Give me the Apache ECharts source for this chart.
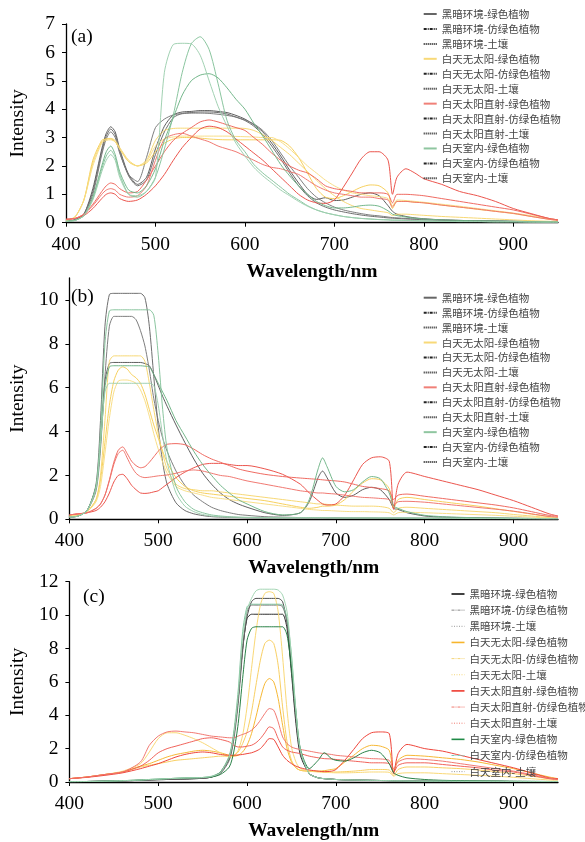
<!DOCTYPE html>
<html><head><meta charset="utf-8">
<script src="https://cdn.jsdelivr.net/npm/echarts@6.0.0/dist/echarts.min.js"></script>
<style>html,body{margin:0;padding:0;background:#fff;}.c{position:absolute;left:0;top:0;width:585px;height:842px;}</style>
</head><body>
<div id="ca" class="c"></div><div id="cb" class="c"></div><div id="cc" class="c"></div>
<script>
// ---------- names ----------
const seriesNames = ['黑暗环境-绿色植物','黑暗环境-仿绿色植物','黑暗环境-土壤','白天无太阳-绿色植物','白天无太阳-仿绿色植物','白天无太阳-土壤','白天太阳直射-绿色植物','白天太阳直射-仿绿色植物','白天太阳直射-土壤','白天室内-绿色植物','白天室内-仿绿色植物','白天室内-土壤'];
const xTicks = [400,500,600,700,800,900];

// ---------- panel (a) ----------
const wlA = [400,410,420,430,440,445,450,455,460,470,480,490,500,510,520,530,540,550,560,570,580,590,600,610,620,630,640,650,660,670,680,690,700,710,720,730,740,750,760,765,770,780,790,800,820,840,860,880,900,920,940,950];
const a_dark_plant = [0.05,0.1,0.3,1.2,2.6,3.15,3.38,3.2,2.6,1.7,1.35,1.6,2.6,3.4,3.8,3.9,3.92,3.95,3.95,3.92,3.88,3.78,3.65,3.45,3.2,2.8,2.35,1.85,1.4,1.0,0.82,0.88,0.78,0.8,0.9,1.0,1.05,0.95,0.6,0.4,0.3,0.22,0.17,0.14,0.1,0.08,0.07,0.06,0.05,0.04,0.03,0.03];
const a_dark_fake = [0.05,0.1,0.3,1.1,2.5,3.05,3.3,3.1,2.5,1.65,1.3,1.5,2.4,3.2,3.7,3.85,3.88,3.9,3.9,3.88,3.83,3.72,3.6,3.4,3.1,2.7,2.25,1.75,1.3,0.95,0.7,0.55,0.45,0.38,0.32,0.27,0.23,0.2,0.17,0.16,0.15,0.13,0.12,0.1,0.08,0.07,0.06,0.05,0.04,0.03,0.03,0.02];
const a_dark_soil = [0.05,0.1,0.3,1.0,2.4,2.95,3.2,3.0,2.45,1.7,1.45,2.3,3.35,3.65,3.8,3.84,3.86,3.86,3.85,3.82,3.78,3.72,3.62,3.48,3.25,2.9,2.45,2.0,1.6,1.2,0.9,0.7,0.55,0.45,0.38,0.32,0.27,0.24,0.2,0.18,0.17,0.15,0.13,0.12,0.1,0.08,0.07,0.06,0.05,0.04,0.03,0.03];
const a_cloudy_plant = [0.08,0.2,0.8,2.2,2.9,2.95,2.95,2.85,2.6,2.15,2.0,2.1,2.5,2.8,2.95,3.0,3.0,2.98,2.95,2.93,2.92,2.92,2.92,2.92,2.92,2.92,2.9,2.7,2.3,1.75,1.2,0.9,0.85,0.95,1.1,1.25,1.33,1.3,1.05,0.5,0.75,0.75,0.72,0.7,0.62,0.55,0.47,0.4,0.32,0.22,0.12,0.08];
const a_cloudy_fake = [0.08,0.2,0.8,2.1,2.85,2.95,2.97,2.9,2.65,2.2,2.0,2.2,2.9,3.25,3.32,3.33,3.33,3.33,3.33,3.33,3.33,3.33,3.32,3.25,3.1,2.9,2.65,2.4,2.1,1.8,1.5,1.2,0.95,0.75,0.6,0.5,0.45,0.4,0.35,0.25,0.3,0.3,0.28,0.26,0.22,0.19,0.16,0.13,0.1,0.07,0.05,0.04];
const a_cloudy_soil = [0.08,0.2,0.8,2.0,2.8,2.9,2.92,2.85,2.6,2.15,2.0,2.15,2.7,2.95,3.02,3.05,3.05,3.05,3.05,3.05,3.05,3.04,3.03,3.02,3.0,3.0,2.85,2.6,2.3,2.0,1.75,1.5,1.3,1.15,1.05,1.0,0.95,0.92,0.85,0.6,0.8,0.78,0.75,0.72,0.65,0.58,0.5,0.42,0.34,0.25,0.14,0.1];
const a_sun_plant = [0.12,0.15,0.25,0.5,0.85,1.0,1.05,1.0,0.85,0.75,0.8,1.0,1.3,1.7,2.2,2.65,3.0,3.3,3.4,3.35,3.2,2.95,2.7,2.45,2.2,1.9,1.6,1.3,1.0,0.8,0.7,0.68,0.8,1.25,1.75,2.25,2.5,2.5,2.2,1.0,1.6,1.9,1.75,1.55,1.35,1.1,0.95,0.75,0.5,0.32,0.15,0.1];
const a_sun_fake = [0.12,0.15,0.3,0.65,1.1,1.3,1.4,1.35,1.2,1.05,1.1,1.5,2.0,2.5,2.9,3.15,3.35,3.55,3.62,3.55,3.45,3.35,3.25,3.0,2.75,2.45,2.2,2.0,1.85,1.75,1.55,1.3,1.2,1.15,1.1,1.05,1.05,1.05,1.0,0.7,1.0,1.0,0.98,0.95,0.85,0.75,0.65,0.55,0.45,0.3,0.15,0.1];
const a_sun_soil = [0.12,0.15,0.3,0.6,1.0,1.15,1.2,1.15,1.0,0.9,0.95,1.3,2.2,2.95,3.1,3.15,3.05,2.95,2.85,2.7,2.6,2.5,2.35,2.2,2.05,1.95,1.9,1.8,1.7,1.5,1.3,1.15,1.05,1.0,0.95,0.9,0.9,0.85,0.8,0.55,0.75,0.75,0.72,0.7,0.62,0.55,0.48,0.4,0.33,0.22,0.12,0.08];
const a_indoor_plant = [0.05,0.08,0.25,0.9,2.0,2.5,2.7,2.4,1.8,1.15,1.05,1.3,1.9,2.9,3.7,4.5,5.0,5.2,5.25,5.1,4.75,4.35,4.0,3.5,3.05,2.55,2.05,1.65,1.3,1.0,0.75,0.6,0.52,0.52,0.55,0.6,0.62,0.58,0.42,0.3,0.25,0.2,0.16,0.13,0.1,0.08,0.07,0.06,0.05,0.04,0.03,0.03];
const a_indoor_fake = [0.05,0.08,0.25,0.85,1.9,2.35,2.55,2.3,1.7,1.0,0.9,1.1,1.6,2.6,3.8,5.3,6.3,6.55,6.1,4.9,3.6,2.9,2.5,2.05,1.75,1.5,1.25,1.0,0.8,0.6,0.45,0.35,0.28,0.22,0.18,0.15,0.13,0.11,0.1,0.09,0.09,0.08,0.07,0.06,0.05,0.04,0.04,0.03,0.03,0.02,0.02,0.02];
const a_indoor_soil = [0.05,0.08,0.25,0.8,1.8,2.2,2.4,2.2,1.6,1.0,0.95,1.1,1.6,5.3,6.28,6.32,6.3,5.9,5.0,4.1,3.4,2.8,2.35,1.95,1.65,1.4,1.15,0.95,0.75,0.58,0.45,0.35,0.28,0.22,0.18,0.15,0.13,0.11,0.1,0.09,0.09,0.08,0.07,0.06,0.05,0.04,0.04,0.03,0.03,0.02,0.02,0.02];
const yTicksA = [0,1,2,3,4,5,6,7];

// ---------- panel (b) ----------
const wlB = [400,410,420,430,435,440,445,450,455,460,465,470,475,480,485,490,495,500,505,510,520,530,540,550,560,570,580,590,600,620,640,660,670,680,685,690,700,710,720,730,740,750,760,765,770,780,800,820,840,860,880,900,920,940,950];
const b_dark_plant = [0.1,0.15,0.4,1.5,3.5,6.3,7.1,7.15,7.15,7.15,7.15,7.15,7.15,7.15,7.1,7.0,6.6,6.1,5.6,5.15,4.3,3.5,2.75,2.1,1.6,1.2,0.9,0.7,0.55,0.3,0.18,0.3,0.8,1.9,2.2,1.9,1.2,1.0,1.1,1.35,1.46,1.35,0.9,0.5,0.45,0.3,0.15,0.1,0.08,0.07,0.06,0.05,0.04,0.03,0.03];
const b_dark_fake = [0.1,0.15,0.4,1.6,4.5,8.8,10.25,10.3,10.3,10.3,10.3,10.3,10.3,10.3,10.1,8.8,6.5,4.2,2.6,1.6,0.75,0.4,0.25,0.17,0.12,0.1,0.09,0.08,0.07,0.06,0.06,0.06,0.06,0.06,0.06,0.06,0.05,0.05,0.05,0.05,0.05,0.05,0.05,0.05,0.05,0.05,0.05,0.05,0.04,0.04,0.04,0.03,0.03,0.03,0.03];
const b_dark_soil = [0.1,0.15,0.4,1.3,3.2,6.5,8.8,9.25,9.25,9.25,9.25,9.25,9.1,8.6,7.9,6.8,5.5,4.5,3.7,3.1,2.2,1.55,1.1,0.8,0.55,0.4,0.3,0.22,0.18,0.12,0.1,0.08,0.08,0.08,0.08,0.07,0.07,0.06,0.06,0.06,0.06,0.05,0.05,0.05,0.05,0.05,0.04,0.04,0.04,0.03,0.03,0.03,0.03,0.02,0.02];
const b_cloudy_plant = [0.15,0.2,0.35,0.9,1.8,3.5,5.2,6.3,6.8,6.95,6.85,6.6,6.45,6.2,5.7,5.0,4.3,3.7,3.1,2.6,1.9,1.5,1.3,1.2,1.15,1.1,1.05,1.0,0.95,0.85,0.7,0.55,0.5,0.55,0.6,0.6,0.65,0.9,1.3,1.65,1.85,1.8,1.4,0.5,0.9,1.0,0.9,0.8,0.7,0.6,0.48,0.36,0.24,0.12,0.08];
const b_cloudy_fake = [0.15,0.2,0.35,0.9,2.0,4.5,7.2,7.45,7.45,7.45,7.45,7.45,7.45,7.45,7.2,6.2,5.0,3.9,3.0,2.3,1.6,1.4,1.35,1.3,1.3,1.25,1.2,1.15,1.1,1.0,0.9,0.8,0.75,0.7,0.7,0.68,0.65,0.62,0.6,0.6,0.6,0.58,0.5,0.3,0.5,0.55,0.5,0.45,0.4,0.35,0.3,0.22,0.15,0.08,0.06];
const b_cloudy_soil = [0.15,0.2,0.35,0.8,1.5,3.0,4.6,5.8,6.3,6.35,6.35,6.3,6.2,5.9,5.4,4.7,3.9,3.2,2.6,2.1,1.5,1.3,1.2,1.1,1.0,0.95,0.9,0.85,0.8,0.7,0.6,0.5,0.45,0.42,0.4,0.4,0.38,0.36,0.35,0.35,0.34,0.33,0.3,0.2,0.3,0.32,0.3,0.27,0.24,0.21,0.18,0.14,0.1,0.06,0.05];
const b_sun_plant = [0.2,0.25,0.3,0.4,0.55,0.8,1.2,1.7,2.0,2.05,1.85,1.55,1.35,1.2,1.18,1.2,1.25,1.3,1.45,1.6,1.9,2.15,2.35,2.5,2.55,2.55,2.5,2.45,2.45,2.3,2.05,1.6,1.2,0.85,0.7,0.65,0.7,1.1,1.8,2.5,2.8,2.85,2.65,0.45,1.6,2.15,1.95,1.75,1.55,1.35,1.1,0.85,0.55,0.25,0.15];
const b_sun_fake = [0.2,0.25,0.3,0.5,0.7,1.1,1.8,2.6,3.15,3.3,3.0,2.65,2.45,2.35,2.4,2.6,2.85,3.1,3.3,3.42,3.45,3.4,3.2,2.95,2.75,2.6,2.45,2.3,2.2,2.05,1.95,1.88,1.85,1.82,1.8,1.78,1.75,1.7,1.6,1.5,1.45,1.4,1.3,0.9,1.1,1.15,1.05,0.95,0.85,0.75,0.65,0.52,0.35,0.18,0.14];
const b_sun_soil = [0.2,0.25,0.3,0.5,0.7,1.1,1.75,2.5,3.0,3.15,2.8,2.4,2.1,1.95,1.9,1.92,1.95,1.98,2.0,2.02,2.1,2.2,2.25,2.2,2.1,2.0,1.95,1.85,1.75,1.6,1.45,1.3,1.25,1.2,1.2,1.18,1.15,1.1,1.05,1.0,0.98,0.95,0.9,0.65,0.8,0.82,0.78,0.7,0.62,0.54,0.46,0.37,0.25,0.13,0.1];
const b_indoor_plant = [0.1,0.15,0.4,1.5,3.4,6.0,6.95,7.0,7.0,7.0,7.0,7.0,7.0,7.0,6.98,6.95,6.6,6.2,5.8,5.4,4.5,3.8,3.1,2.5,2.0,1.55,1.2,0.9,0.7,0.35,0.2,0.3,0.9,2.3,2.8,2.4,1.5,1.25,1.35,1.7,1.95,1.85,1.2,0.6,0.5,0.35,0.18,0.12,0.09,0.07,0.06,0.05,0.04,0.03,0.03];
const b_indoor_fake = [0.1,0.15,0.4,1.5,4.0,8.0,9.5,9.55,9.55,9.55,9.55,9.55,9.55,9.55,9.55,9.55,9.3,7.5,5.0,3.2,1.5,0.8,0.45,0.3,0.2,0.15,0.12,0.1,0.09,0.08,0.07,0.07,0.07,0.07,0.07,0.07,0.06,0.06,0.06,0.06,0.06,0.06,0.06,0.06,0.06,0.06,0.05,0.05,0.05,0.04,0.04,0.04,0.03,0.03,0.03];
const b_indoor_soil = [0.1,0.15,0.4,1.4,3.5,5.8,6.2,6.2,6.2,6.2,6.2,6.2,6.2,6.2,6.2,6.2,6.1,5.2,3.8,2.6,1.2,0.6,0.35,0.22,0.15,0.12,0.1,0.09,0.08,0.07,0.07,0.07,0.07,0.07,0.07,0.07,0.06,0.06,0.06,0.06,0.06,0.06,0.06,0.06,0.06,0.06,0.05,0.05,0.04,0.04,0.04,0.03,0.03,0.03,0.03];
const yTicksB = [0,2,4,6,8,10];

// ---------- panel (c) ----------
const wlC = [400,420,440,460,480,490,500,510,520,530,540,550,560,570,580,585,590,595,600,605,610,615,620,625,630,635,640,645,650,655,660,670,680,687,695,700,710,720,730,740,750,760,765,770,780,800,820,840,860,880,900,920,940,950];
const c_dark_plant = [0.02,0.03,0.05,0.07,0.1,0.12,0.14,0.15,0.17,0.18,0.2,0.22,0.3,0.6,1.5,2.8,5.0,8.0,9.8,10.05,10.05,10.05,10.05,10.05,10.05,10.05,10.05,9.2,6.5,3.5,1.6,0.5,0.25,0.2,0.17,0.15,0.13,0.12,0.11,0.1,0.09,0.08,0.07,0.07,0.06,0.05,0.05,0.04,0.04,0.04,0.03,0.03,0.03,0.03];
const c_dark_fake = [0.02,0.03,0.05,0.07,0.1,0.12,0.14,0.15,0.17,0.18,0.2,0.22,0.3,0.55,1.4,2.7,5.0,8.0,9.9,10.8,11.0,11.0,11.0,11.0,11.0,11.0,10.8,9.5,6.8,3.8,1.8,0.5,0.25,0.2,0.17,0.15,0.13,0.12,0.11,0.1,0.09,0.08,0.07,0.07,0.06,0.05,0.05,0.04,0.04,0.04,0.03,0.03,0.03,0.03];
const c_dark_soil = [0.02,0.03,0.05,0.07,0.1,0.12,0.14,0.15,0.17,0.18,0.2,0.22,0.3,0.5,1.3,2.5,4.7,7.8,10.2,10.6,10.6,10.6,10.6,10.6,10.6,10.6,10.5,9.6,6.9,3.9,1.8,0.5,0.25,0.2,0.17,0.15,0.13,0.12,0.11,0.1,0.09,0.08,0.07,0.07,0.06,0.05,0.05,0.04,0.04,0.04,0.03,0.03,0.03,0.03];
const c_cloudy_plant = [0.2,0.3,0.45,0.6,0.95,1.1,1.3,1.5,1.65,1.75,1.85,1.9,1.85,1.75,1.6,1.55,1.6,1.8,2.2,2.9,3.9,5.0,5.9,6.2,6.0,5.0,3.4,2.0,1.2,0.85,0.7,0.65,0.65,0.68,0.75,0.8,1.2,1.6,2.0,2.2,2.15,1.9,0.6,1.3,1.6,1.55,1.45,1.35,1.2,1.0,0.8,0.55,0.3,0.2];
const c_cloudy_fake = [0.2,0.3,0.45,0.6,0.9,1.0,1.1,1.2,1.3,1.35,1.4,1.45,1.5,1.55,1.55,1.6,1.8,2.3,3.0,4.2,5.8,7.3,8.3,8.5,8.3,7.0,4.5,2.4,1.3,0.85,0.7,0.65,0.62,0.6,0.6,0.6,0.62,0.65,0.7,0.75,0.75,0.72,0.4,0.75,0.9,0.9,0.85,0.8,0.72,0.62,0.5,0.35,0.2,0.15];
const c_cloudy_soil = [0.2,0.3,0.45,0.65,1.1,1.8,2.6,2.95,2.95,2.8,2.6,2.35,2.05,1.75,1.5,1.55,1.9,2.8,4.5,6.8,9.0,10.6,11.3,11.4,11.3,10.2,7.5,4.3,2.1,1.2,0.8,0.65,0.6,0.58,0.56,0.55,0.55,0.56,0.58,0.6,0.6,0.58,0.35,0.5,0.55,0.55,0.5,0.45,0.4,0.35,0.28,0.2,0.12,0.1];
const c_sun_plant = [0.2,0.28,0.4,0.55,0.8,0.95,1.1,1.3,1.5,1.65,1.75,1.8,1.75,1.65,1.6,1.6,1.62,1.65,1.7,1.75,1.85,2.0,2.3,2.6,2.55,2.1,1.6,1.3,1.1,0.95,0.85,0.72,0.65,0.62,0.65,0.75,1.3,1.95,2.6,2.95,3.0,2.9,0.5,1.7,2.25,2.0,1.85,1.6,1.35,1.1,0.85,0.55,0.25,0.2];
const c_sun_fake = [0.2,0.3,0.45,0.6,0.95,1.3,1.75,2.0,2.15,2.3,2.45,2.6,2.65,2.55,2.4,2.2,2.1,2.1,2.15,2.2,2.35,2.6,2.95,3.3,3.2,2.6,2.1,1.9,1.8,1.75,1.7,1.55,1.45,1.4,1.38,1.35,1.3,1.25,1.2,1.15,1.15,1.1,0.6,1.0,1.15,1.15,1.05,0.95,0.85,0.7,0.6,0.4,0.2,0.15];
const c_sun_soil = [0.2,0.3,0.45,0.6,1.2,2.2,2.75,3.0,3.05,3.0,2.95,2.85,2.75,2.7,2.65,2.65,2.75,2.85,2.95,3.1,3.35,3.7,4.1,4.4,4.3,3.6,2.7,2.3,2.1,2.0,1.95,1.85,1.75,1.7,1.65,1.6,1.55,1.5,1.45,1.4,1.38,1.3,0.8,1.2,1.4,1.35,1.25,1.1,0.95,0.8,0.65,0.45,0.22,0.15];
const c_indoor_plant = [0.02,0.03,0.05,0.08,0.12,0.15,0.17,0.2,0.22,0.24,0.25,0.27,0.3,0.45,0.9,1.8,3.5,6.2,8.5,9.2,9.3,9.3,9.3,9.3,9.3,9.3,9.3,8.8,6.8,4.2,2.0,0.8,1.3,1.75,1.4,1.3,1.25,1.45,1.75,1.9,1.75,1.1,0.55,0.4,0.25,0.15,0.1,0.08,0.07,0.06,0.05,0.04,0.03,0.03];
const c_indoor_fake = [0.02,0.03,0.05,0.08,0.12,0.15,0.17,0.2,0.22,0.24,0.25,0.27,0.35,0.6,1.6,3.0,5.5,9.0,10.5,10.65,10.65,10.65,10.65,10.65,10.65,10.65,10.6,9.8,7.6,4.3,1.9,0.5,0.25,0.2,0.17,0.15,0.13,0.12,0.11,0.1,0.09,0.08,0.07,0.07,0.06,0.05,0.05,0.04,0.04,0.04,0.03,0.03,0.03,0.03];
const c_indoor_soil = [0.02,0.03,0.05,0.08,0.12,0.15,0.17,0.2,0.22,0.24,0.25,0.27,0.33,0.55,1.5,2.8,5.2,8.6,10.3,11.0,11.45,11.55,11.55,11.55,11.55,11.5,11.2,10.2,7.5,4.2,1.9,0.5,0.25,0.2,0.17,0.15,0.13,0.12,0.11,0.1,0.09,0.08,0.07,0.07,0.06,0.05,0.05,0.04,0.04,0.04,0.03,0.03,0.03,0.03];
const yTicksC = [0,2,4,6,8,10,12];

// ---------- styles ----------
const SERIF = '"Liberation Serif","Times New Roman",serif';
const CJK = '"Noto Sans CJK SC","Noto Sans CJK JP",sans-serif';
const DD = [3,1,1,1], DOT = [1,1];
const lineColAB = ['#555555','#666666','#777777','#f5cd55','#f7d66e','#f8dc82','#ea4c43','#ee635a','#ef726a','#6db385','#84c29a','#9ccfae'];
const legAB = [['#666','solid'],['#222',DD],['#222',DOT],['#f8d978','solid'],['#222',DD],['#222',DOT],['#f08078','solid'],['#222',DD],['#222',DOT],['#8fc6a0','solid'],['#222',DD],['#222',DOT]];
const lineColC = ['#222222','#444444','#6a6a6a','#f6b42a','#f8cc5c','#f9d670','#ed3b30','#ef5b52','#f0726a','#1d7a3d','#7cc29c','#9fd3b0'];
const legC = [['#111','solid',1.6],['#888',DD,1],['#999',[1,1.5],1],['#f7b52c','solid',1.6],['#f4d67a',DD,1],['#f4d67a',[1,1.5],1],['#ee3a2f','solid',1.6],['#f07a70',DD,1],['#f07a70',[1,1.5],1],['#1f8a46','solid',1.6],['#7fc7b5',DD,1],['#999',[1,1.5],1]];

function panel(dom, p) {
  const chart = echarts.init(dom, null, {renderer:'canvas'});
  const series = p.data.map((d, i) => ({
    name: seriesNames[i], type: 'line', symbol: 'none', smooth: 0.25, animation: false,
    data: p.wl.map((w, k) => [w, d[k]]),
    lineStyle: {color: p.colors[i], width: 1, type: 'solid', opacity: 0.95}
  }));
  const legendData = seriesNames.map((n, i) => ({
    name: n,
    lineStyle: {color: p.leg[i][0], type: p.leg[i][1], width: p.leg[i][2] || 2, opacity: 1},
    itemStyle: {color: p.leg[i][0], opacity: 0}
  }));
  chart.setOption({
    animation: false,
    backgroundColor: 'transparent',
    grid: {left: 65, top: p.top, width: 493, height: p.h},
    xAxis: {
      type: 'value', min: 400, max: 950, interval: 100,
      axisLine: {lineStyle: {color: '#000', width: 1.3}},
      axisTick: {length: 4, lineStyle: {color: '#000'}, customValues: xTicks},
      axisLabel: {customValues: xTicks, fontFamily: SERIF, fontSize: 19.5, color: '#000', margin: 12,
        formatter: v => (v % 100 === 0 && v <= 900) ? String(v) : ''},
      splitLine: {show: false},
      name: 'Wavelength/nm', nameLocation: 'middle', nameGap: 39,
      nameTextStyle: {fontFamily: SERIF, fontWeight: 'bold', fontSize: 19.5, color: '#000'}
    },
    yAxis: {
      type: 'value', min: 0, max: p.ymax, interval: p.yint,
      axisLine: {show: true, lineStyle: {color: '#000', width: 1.3}},
      axisTick: {show: true, length: 4, lineStyle: {color: '#000'}, customValues: p.yticks},
      axisLabel: {customValues: p.yticks, fontFamily: SERIF, fontSize: 19.5, color: '#000', margin: 11},
      splitLine: {show: false},
      name: 'Intensity', nameLocation: 'middle', nameGap: 38,
      nameTextStyle: {fontFamily: SERIF, fontSize: 19.5, color: '#000'}
    },
    legend: {
      orient: 'vertical', left: p.legLeft, top: p.legTop, padding: 0,
      itemWidth: 13, itemHeight: 8, itemGap: p.legGap, selectedMode: false,
      textStyle: {fontFamily: CJK, fontSize: 10.5, color: '#444', lineHeight: 13},
      data: legendData
    },
    graphic: [{type: 'text', left: p.labX, top: p.labY,
      style: {text: p.label, font: '19.5px ' + SERIF, fill: '#000'}}],
    series
  });
}

panel(document.getElementById('ca'), {
  wl: wlA, top: 24, h: 198.7, ymax: 7, yint: 1, yticks: yTicksA,
  data: [a_dark_plant,a_dark_fake,a_dark_soil,a_cloudy_plant,a_cloudy_fake,a_cloudy_soil,a_sun_plant,a_sun_fake,a_sun_soil,a_indoor_plant,a_indoor_fake,a_indoor_soil],
  colors: lineColAB, leg: legAB, legLeft: 422.7, legTop: 7.5, legGap: 1.94,
  label: '(a)', labX: 71, labY: 27
});
panel(document.getElementById('cb'), {
  wl: wlB, top: 278, h: 241.3, ymax: 11, yint: 2, yticks: yTicksB,
  data: [b_dark_plant,b_dark_fake,b_dark_soil,b_cloudy_plant,b_cloudy_fake,b_cloudy_soil,b_sun_plant,b_sun_fake,b_sun_soil,b_indoor_plant,b_indoor_fake,b_indoor_soil],
  colors: lineColAB, leg: legAB, legLeft: 422.7, legTop: 291.2, legGap: 1.94,
  label: '(b)', labX: 71, labY: 287
});
panel(document.getElementById('cc'), {
  wl: wlC, top: 581.7, h: 201, ymax: 12, yint: 2, yticks: yTicksC,
  data: [c_dark_plant,c_dark_fake,c_dark_soil,c_cloudy_plant,c_cloudy_fake,c_cloudy_soil,c_sun_plant,c_sun_fake,c_sun_soil,c_indoor_plant,c_indoor_fake,c_indoor_soil],
  colors: lineColC, leg: legC, legLeft: 450.7, legTop: 587.5, legGap: 3.15,
  label: '(c)', labX: 83, labY: 587
});
</script>
</body></html>
